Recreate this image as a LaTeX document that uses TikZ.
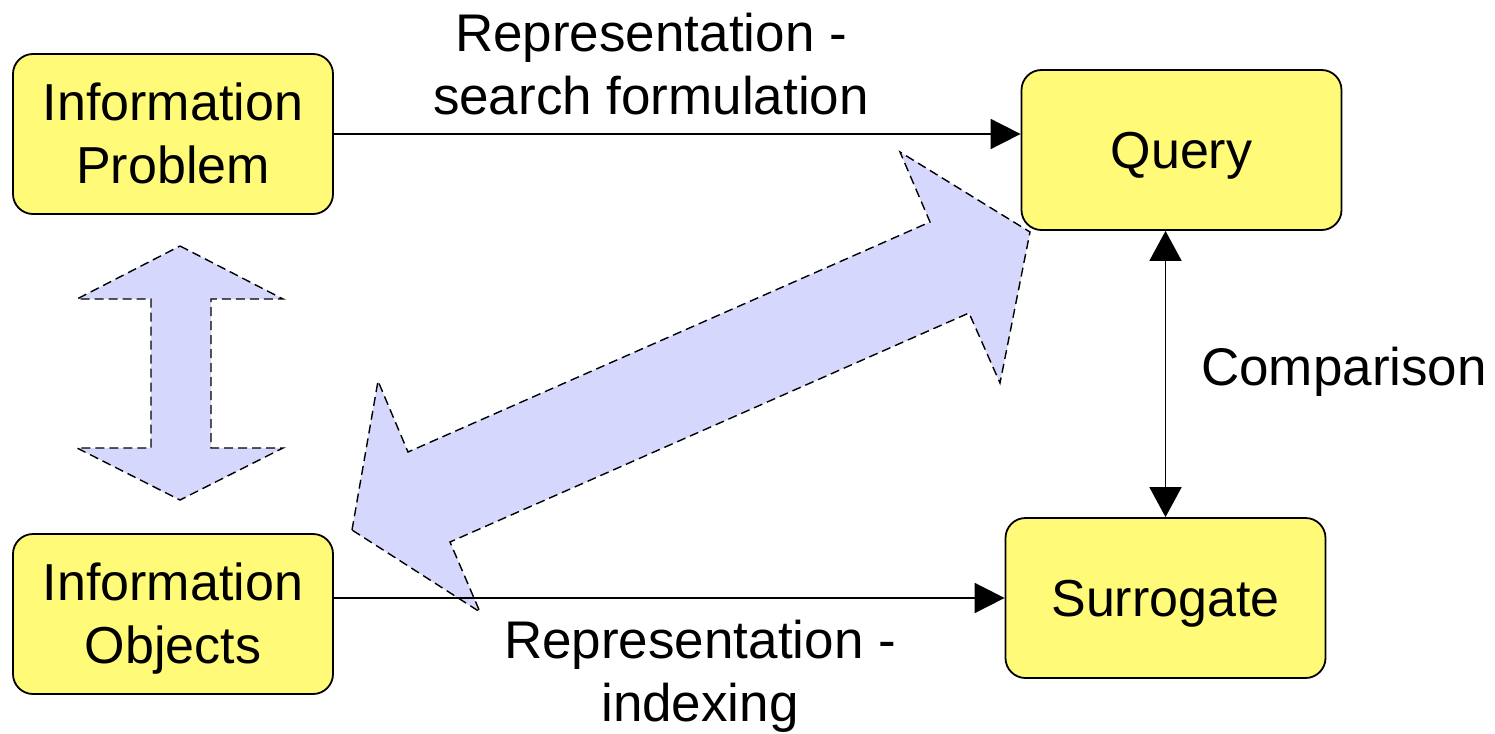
\documentclass[tikz,border=0pt]{standalone}
\usepackage{fontspec}
\setmainfont{Liberation Sans}
\usetikzlibrary{arrows.meta}
\definecolor{boxfill}{RGB}{255,250,120}
\definecolor{flowfill}{RGB}{213,216,252}
% line strut: ascent and descent of the font, so every line box has the same size
\newcommand{\lstrut}{\rule[-0.212em]{0pt}{1.117em}}
\begin{document}
\begin{tikzpicture}[x=1pt,y=-1pt,
  stage/.style={draw, line width=1.8pt, fill=boxfill, rounded corners=20pt,
    minimum width=320pt, minimum height=160pt, inner sep=0pt, align=center,
    font=\fontsize{52}{63}\selectfont},
  link/.style={line width=1.8pt, -{Triangle[length=30pt,width=30pt]}},
  twoway/.style={line width=1.8pt, {Triangle[length=30pt,width=32pt]}-{Triangle[length=30pt,width=32pt]}},
  caption/.style={align=center, inner sep=0pt, font=\fontsize{53}{63}\selectfont},
  flow/.style={draw, fill=flowfill, line width=1.4pt, dash pattern=on 9pt off 5pt, line join=miter}]
\useasboundingbox (0,0) rectangle (1495,733);

% broad double arrows
\draw[flow] (180,246) -- (283,299) -- (211,299) -- (211,448) -- (283,448) -- (180,500)
  -- (77,448) -- (151,448) -- (151,299) -- (77,299) -- cycle;
\draw[flow] (352,530) -- (378,381) -- (408,452) -- (930,222) -- (900,152) -- (1030,232)
  -- (1000,383) -- (969,313) -- (450,542) -- (480,612) -- cycle;

% stages
\node[stage] (problem) at (173,134) {\lstrut Information\\\lstrut Problem};
\node[stage] (objects) at (173,614) {\lstrut Information\\\lstrut Objects};
\node[stage] (query) at (1181.5,150) {\lstrut Query};
\node[stage] (surrogate) at (1165.5,598) {\lstrut Surrogate};

% connectors
\draw[link] (problem.east) -- (query.west |- problem.east);
\draw[link] (objects.east |- surrogate.west) -- (surrogate.west);
\draw[twoway] (query.south -| surrogate.north) -- (surrogate.north);

% labels
\node[caption] (formulation) at (651,64.5) {\lstrut Representation -\\\lstrut search formulation};
\node[caption] (indexing) at (700,671.5) {\lstrut Representation -\\\lstrut indexing};
\node[caption, anchor=base west] (comparison) at (1201,385) {Comparison};
\end{tikzpicture}
\end{document}
